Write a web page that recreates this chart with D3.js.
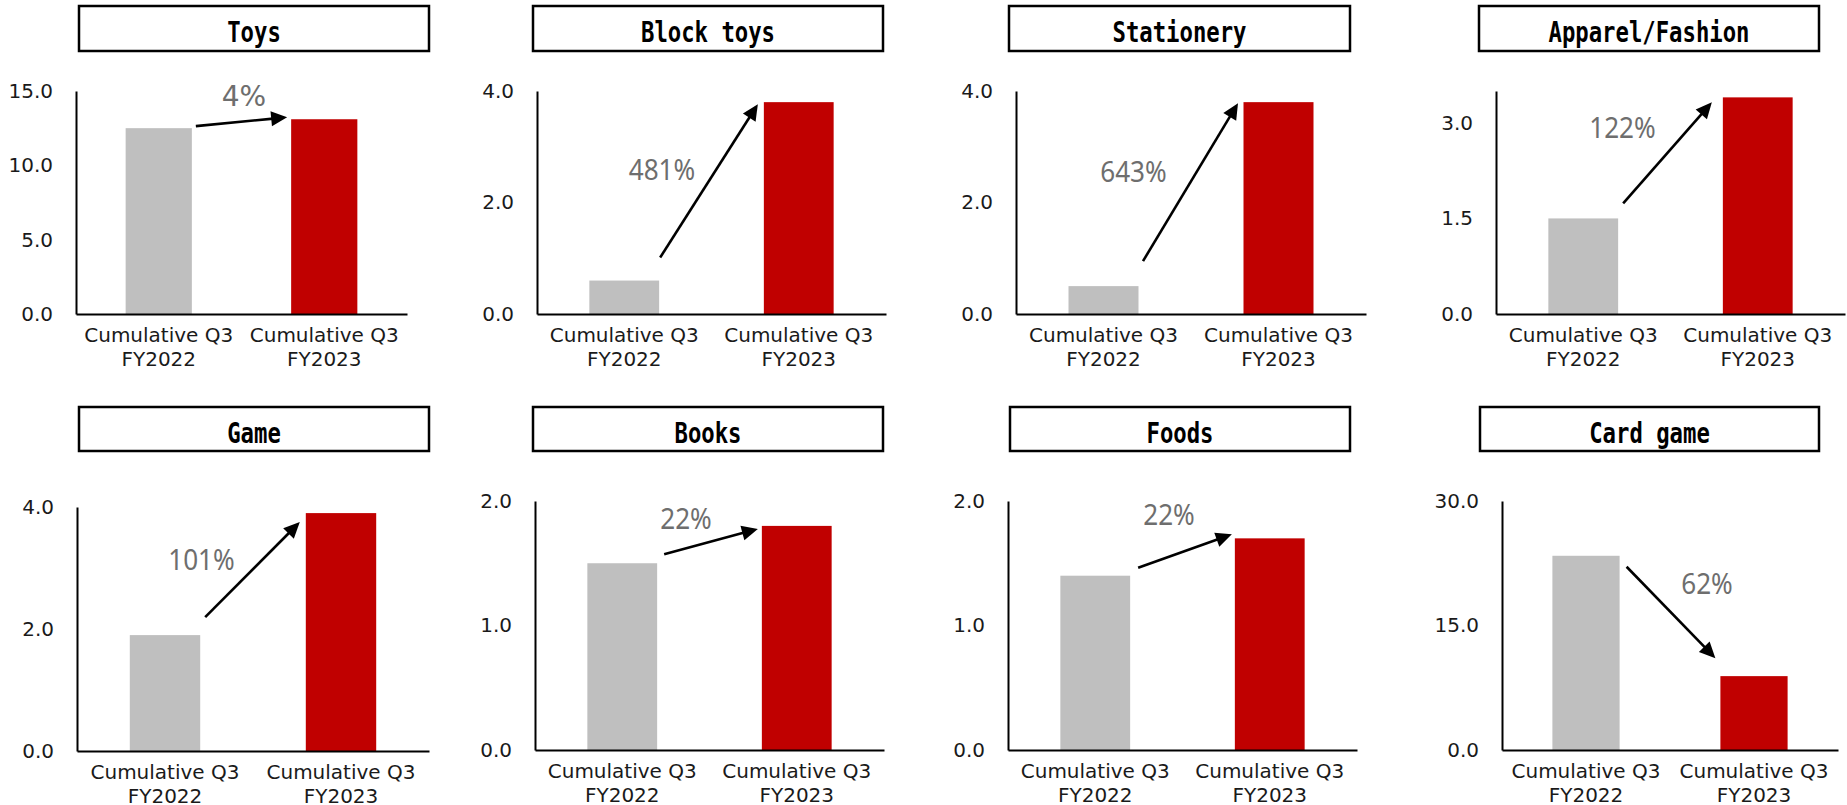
<!DOCTYPE html>
<html><head><meta charset="utf-8">
<script src="https://cdn.jsdelivr.net/npm/d3@7"></script>
<style>html,body{margin:0;padding:0;background:#fff;}svg{display:block;}</style>
</head><body>
<script>
// ---- data ----
const segments = ["Toys", "Block toys", "Stationery", "Apparel/Fashion", "Game", "Books", "Foods", "Card game"];
const periods = [["Cumulative Q3", "FY2022"], ["Cumulative Q3", "FY2023"]];
const fy2022 = [12.5, 0.6, 0.5, 1.5, 1.9, 1.5, 1.4, 23.4];
const fy2023 = [13.1, 3.8, 3.8, 3.4, 3.9, 1.8, 1.7, 8.9];
const growthLabels = ["4%", "481%", "643%", "122%", "101%", "22%", "22%", "62%"];
const axisMax = [15, 4, 4, 3.5, 4, 2, 2, 30];
const tickValues = [[0, 5, 10, 15], [0, 2, 4], [0, 2, 4], [0, 1.5, 3], [0, 2, 4], [0, 1, 2], [0, 1, 2], [0, 15, 30]];

// ---- layout (pixels) ----
const frames = [
  {x0: 76, x1: 407, yT: 91, yB: 314, box: [79, 6, 429, 51]},
  {x0: 537, x1: 886, yT: 91, yB: 314, box: [533, 6, 883, 51]},
  {x0: 1016, x1: 1366, yT: 91, yB: 314, box: [1009, 6, 1350, 51]},
  {x0: 1496, x1: 1845, yT: 91, yB: 314, box: [1479, 6, 1819, 51]},
  {x0: 77, x1: 429, yT: 507, yB: 751, box: [79, 407, 429, 451]},
  {x0: 535, x1: 884, yT: 501, yB: 750, box: [533, 407, 883, 451]},
  {x0: 1008, x1: 1357, yT: 501, yB: 750, box: [1010, 407, 1350, 451]},
  {x0: 1502, x1: 1838, yT: 501, yB: 750, box: [1480, 407, 1819, 451]}
];
// arrow start offset from (gray bar right, gray top), end offset from (red bar left, red top), label offset from arrow midpoint
const arrowLayout = [
  {s: [4, -2], e: [-4, -2], l: [2.5, -15.5], wide: true},
  {s: [1, -23], e: [-6, 2], l: [-47, -1]},
  {s: [4.5, -25], e: [-5.5, 1], l: [-57, 0]},
  {s: [5, -15], e: [-11, 5], l: [-45, -15]},
  {s: [5, -18], e: [-6, 9], l: [-51, 0]},
  {s: [7, -9], e: [-4, 3], l: [-25, -13]},
  {s: [8, -8], e: [-3, -4], l: [-16, -26]},
  {s: [7, 11], e: [-5, -18], l: [36, -18]}
];
const barColors = ["#bfbfbf", "#c00000"];

const svg = d3.select("body").append("svg").attr("width", 1847).attr("height", 805);

frames.forEach((f, i) => {
  const g = svg.append("g");
  const x = d3.scaleBand().domain([0, 1]).range([f.x0, f.x1]).paddingInner(0.6).paddingOuter(0.3);
  const y = d3.scaleLinear().domain([0, axisMax[i]]).range([f.yB, f.yT]);
  const vals = [fy2022[i], fy2023[i]];

  // title box
  const [bx0, by0, bx1, by1] = f.box;
  g.append("rect").attr("x", bx0).attr("y", by0).attr("width", bx1 - bx0).attr("height", by1 - by0)
    .attr("fill", "#fff").attr("stroke", "#000").attr("stroke-width", 2.5);
  const title = segments[i];
  g.append("text").attr("x", (bx0 + bx1) / 2).attr("y", by0 + 36)
    .attr("text-anchor", "middle").attr("font-family", "DejaVu Sans Mono").attr("font-weight", "bold")
    .attr("font-size", 28).attr("fill", "#000")
    .attr("textLength", title.length * 13.4).attr("lengthAdjust", "spacingAndGlyphs")
    .text(title);

  // bars
  g.selectAll("rect.bar").data(vals).join("rect").attr("class", "bar")
    .attr("x", (d, j) => x(j)).attr("y", d => y(d))
    .attr("width", x.bandwidth()).attr("height", d => y(0) - y(d))
    .attr("fill", (d, j) => barColors[j]);

  // y axis
  const ya = g.append("g").attr("transform", `translate(${f.x0},0)`)
    .call(d3.axisLeft(y).tickValues(tickValues[i]).tickSize(0).tickSizeOuter(0).tickPadding(23).tickFormat(d3.format(".1f")));
  ya.select(".domain").attr("stroke", "#000").attr("stroke-width", 2);
  ya.selectAll("text").attr("font-family", "DejaVu Sans").attr("font-size", 20).attr("fill", "#1a1a1a");

  // x axis
  const xa = g.append("g").attr("transform", `translate(0,${f.yB})`)
    .call(d3.axisBottom(x).tickSize(0).tickSizeOuter(0).tickFormat(""));
  xa.select(".domain").attr("stroke", "#000").attr("stroke-width", 2);
  periods.forEach((p, j) => {
    const t = g.append("text").attr("text-anchor", "middle").attr("font-family", "DejaVu Sans")
      .attr("font-size", 20).attr("fill", "#1a1a1a");
    p.forEach((line, k) => {
      t.append("tspan").attr("x", x(j) + x.bandwidth() / 2).attr("y", f.yB + 28 + k * 24).text(line);
    });
  });

  // arrow
  const a = arrowLayout[i];
  const sx = x(0) + x.bandwidth() + a.s[0], sy = y(vals[0]) + a.s[1];
  const ex = x(1) + a.e[0], ey = y(vals[1]) + a.e[1];
  const ang = Math.atan2(ey - sy, ex - sx);
  const hl = 16, hw = 7.5;
  const bxp = ex - hl * Math.cos(ang), byp = ey - hl * Math.sin(ang);
  g.append("line").attr("x1", sx).attr("y1", sy).attr("x2", bxp + 2 * Math.cos(ang)).attr("y2", byp + 2 * Math.sin(ang))
    .attr("stroke", "#000").attr("stroke-width", 2.6);
  const px = -Math.sin(ang), py = Math.cos(ang);
  g.append("polygon").attr("points", [
    [ex, ey], [bxp + hw * px, byp + hw * py], [bxp - hw * px, byp - hw * py]
  ].map(p => p.join(",")).join(" ")).attr("fill", "#000");

  // growth label
  const mx = (sx + ex) / 2 + a.l[0], my = (sy + ey) / 2 + a.l[1];
  const lt = g.append("text").attr("x", mx).attr("y", my).attr("text-anchor", "middle")
    .attr("font-family", a.wide ? "DejaVu Sans" : "Noto Sans")
    .attr("font-size", a.wide ? 28 : 29).attr("fill", "#6e6e6e").text(growthLabels[i]);
  if (!a.wide) {
    const len = lt.node().getComputedTextLength();
    lt.attr("textLength", len * 0.9).attr("lengthAdjust", "spacingAndGlyphs");
  }
});
</script>
</body></html>
